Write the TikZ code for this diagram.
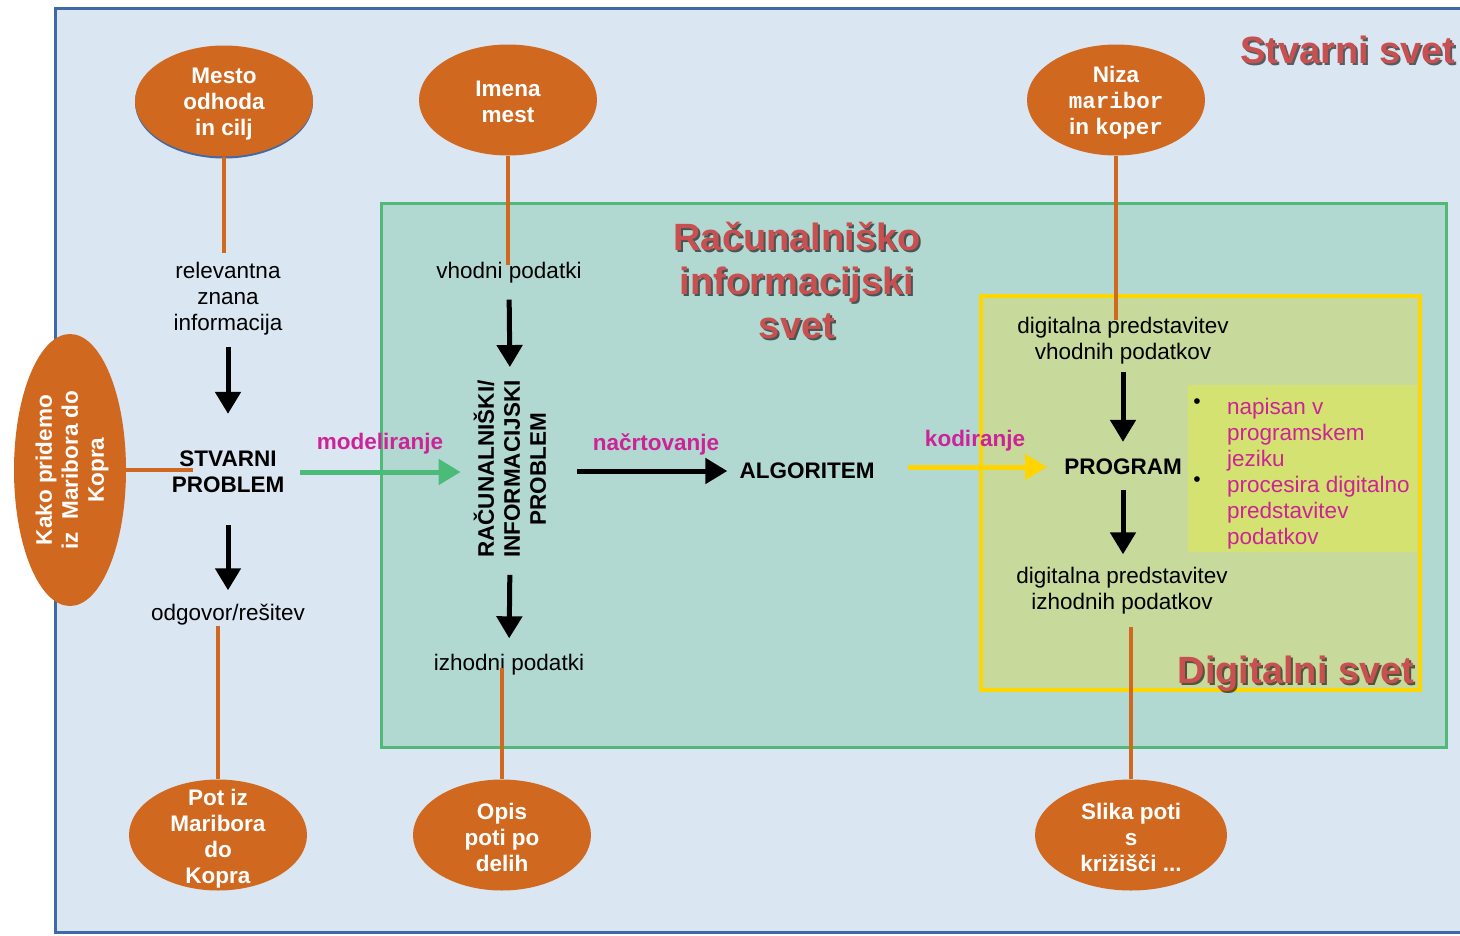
\documentclass[tikz,border=0pt]{standalone}
\usepackage{fontspec}
\setmainfont{Liberation Sans}
\setmonofont{Liberation Mono}
\usetikzlibrary{shapes.geometric,arrows.meta}
\definecolor{outerfill}{RGB}{218,230,242}
\definecolor{outerline}{RGB}{62,106,170}
\definecolor{greenfill}{RGB}{178,216,210}
\definecolor{greenline}{RGB}{80,185,120}
\definecolor{yelfill}{RGB}{199,217,155}
\definecolor{yelline}{RGB}{255,215,0}
\definecolor{bulfill}{RGB}{212,226,114}
\definecolor{orng}{RGB}{209,104,32}
\definecolor{mag}{RGB}{204,36,150}
\definecolor{titlered}{RGB}{201,80,80}
\definecolor{arrgreen}{RGB}{76,186,120}
\definecolor{arryel}{RGB}{255,212,0}
\begin{document}
\begin{tikzpicture}[x=1pt,y=-1pt,
  txt/.style={font=\fontsize{22.5}{26}\selectfont, align=center, inner sep=0pt},
  btxt/.style={txt, font=\bfseries\fontsize{22.5}{26}\selectfont},
  lbl/.style={btxt, text=mag},
  ell/.style={ellipse, fill=orng, inner sep=0pt, minimum width=178pt, minimum height=111pt},
  elltext/.style={btxt, text=white},
  title/.style={font=\bfseries\fontsize{38}{44}\selectfont, align=center, inner sep=0pt, text=titlered},
  tshadow/.style={title, text=black, opacity=0.6},
  orline/.style={draw=orng, line width=4pt},
  bigarrow/.style={line width=5pt, -{Triangle[length=22pt,width=25pt]}}]
\useasboundingbox (0,0) rectangle (1460,935);
\clip (0,0) rectangle (1460,935);
% frames
\filldraw[fill=outerfill, draw=outerline, line width=3pt] (55,8) rectangle (1480,932);
\filldraw[fill=greenfill, draw=greenline, line width=3pt] (381,203) rectangle (1446,747);
\filldraw[fill=yelfill, draw=yelline, line width=3.5pt] (981,296) rectangle (1420,690);
\fill[bulfill] (1188,385) rectangle (1417,552);
% titles
\node[tshadow, anchor=west] (tstvs) at (1242,52) {Stvarni svet};
\node[title, anchor=west] (tstv) at (1240,50) {Stvarni svet};
\node[tshadow] (tracs) at (799,282) {Računalniško\\informacijski\\svet};
\node[title] (trac) at (797,280) {Računalniško\\informacijski\\svet};
\node[tshadow, anchor=base] (tdigs) at (1298,685) {Digitalni svet};
\node[title, anchor=base] (tdig) at (1296,683) {Digitalni svet};
% ellipses
\fill[outerline] (224,102.5) ellipse [x radius=89, y radius=56];
\node[ell] (e1) at (224,101) {};
\node[elltext] (e1t) at ([yshift=-3pt]e1.center) {Mesto\\odhoda\\in cilj};
\node[ell] (e2) at (508,100) {};
\node[elltext] (e2t) at ([yshift=-2pt]e2.center) {Imena\\mest};
\node[ell] (e3) at (1116,100) {};
\node[elltext] (e3t) at ([yshift=-3pt]e3.center) {Niza\\\texttt{maribor}\\in \texttt{koper}};
\node[ell, minimum width=272pt, minimum height=112pt, rotate=90] (e4) at (70,470) {};
\node[elltext, rotate=90] (e4t) at ([xshift=2pt]e4.center) {Kako pridemo\\iz\ \ Maribora do\\Kopra};
\node[ell] (b1) at (218,835) {};
\node[elltext] (b1t) at ([yshift=-4pt]b1.center) {Pot iz\\Maribora\\do\\Kopra};
\node[ell] (b2) at (502,835) {};
\node[elltext] (b2t) at ([yshift=-2pt]b2.center) {Opis\\poti po\\delih};
\node[ell, minimum width=192pt] (b3) at (1131,835) {};
\node[elltext] (b3t) at ([yshift=-2pt]b3.center) {Slika poti\\s\\križišči ...};
% texts
\node[txt] (relev) at (228,299) {relevantna\\znana\\informacija};
\node[btxt] (stv) at (228,472) {STVARNI\\PROBLEM};
\node[txt] (odg) at (228,615) {odgovor/rešitev};
\node[txt] (vhod) at (509,273) {vhodni podatki};
\node[btxt, rotate=90] (rip) at (510,469) {RAČUNALNIŠKI/\\INFORMACIJSKI\\PROBLEM};
\node[txt] (izh) at (509,665) {izhodni podatki};
\node[btxt] (alg) at (807,471) {ALGORITEM};
\node[btxt] (prog) at (1123,467) {PROGRAM};
\node[txt] (dig1) at (1123,341) {digitalna predstavitev\\vhodnih podatkov};
\node[txt] (dig2) at (1122,591) {digitalna predstavitev\\izhodnih podatkov};
\node[lbl] (mod) at (380,444) {modeliranje};
\node[lbl] (nac) at (656,444) {načrtovanje};
\node[lbl] (kod) at (975,441) {kodiranje};
\node[txt, text=mag, align=left, anchor=north west] (bul) at (1227,398) {napisan v\\programskem\\jeziku\\procesira digitalno\\predstavitev\\podatkov};
\node[txt, font=\fontsize{21}{21}\selectfont] (dot1) at (1197,404) {•};
\node[txt, font=\fontsize{21}{21}\selectfont] (dot2) at (1197,482) {•};
% arrows
\draw[bigarrow, shorten <=11pt, shorten >=37pt] (relev.south) -- (stv.north);
\draw[bigarrow, shorten <=32pt, shorten >=14pt] (stv.south) -- (odg.north);
\draw[bigarrow, shorten <=16pt, shorten >=13pt] (vhod.south) -- (rip.east);
\draw[bigarrow, shorten <=17pt, shorten >=16pt] (rip.west) -- (izh.north);
\draw[bigarrow, draw=arrgreen, fill=arrgreen, shorten <=16pt, shorten >=13pt] (stv.east) -- (stv.east -| rip.north);
\draw[bigarrow, shorten <=31pt, shorten >=12pt] (rip.south |- alg.west) -- (alg.west);
\draw[bigarrow, draw=arryel, fill=arryel, shorten <=33pt, shorten >=17pt] (alg.east |- prog.west) -- (prog.west);
\draw[bigarrow, shorten <=7pt, shorten >=17pt] (dig1.south) -- (dig1.south |- prog.north);
\draw[bigarrow, shorten <=15pt, shorten >=13pt] (dig1.south |- prog.south) -- (dig1.south |- dig2.north);
% orange connectors
\draw[orline, shorten >=9pt] (e1.south) -- (e1.south |- relev.north);
\draw[orline, shorten >=-3pt] (e2.south) -- (e2.south |- vhod.north);
\draw[orline, shorten >=-3pt] (e3.south) -- (e3.south |- dig1.north);
\draw[orline] (e4.south) -- (e4.south -| 193,0);
\draw[orline] (odg.south -| b1.north) -- (b1.north);
\draw[orline, shorten <=-8pt] (izh.south -| b2.north) -- (b2.north);
\draw[orline, shorten <=12pt] (dig2.south -| b3.north) -- (b3.north);
\end{tikzpicture}
\end{document}
